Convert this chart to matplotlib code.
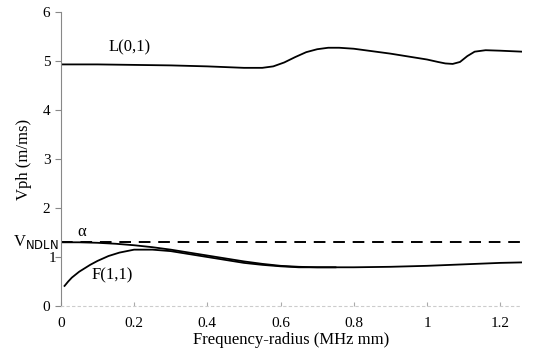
import numpy as np
import matplotlib.pyplot as plt

plt.rcParams['font.family'] = ['Liberation Serif', 'DejaVu Serif']

# L(0,1) mode
l01_x = [0, 0.1, 0.2, 0.3, 0.4, 0.5, 0.55, 0.58, 0.61, 0.64, 0.67, 0.70, 0.73, 0.76,
         0.8, 0.85, 0.9, 0.95, 1.0, 1.03, 1.05, 1.07, 1.09, 1.11, 1.13, 1.16, 1.2, 1.26]
l01_y = [4.93, 4.93, 4.92, 4.91, 4.89, 4.86, 4.86, 4.89, 4.97, 5.08, 5.18, 5.24, 5.27, 5.27,
         5.25, 5.20, 5.15, 5.09, 5.03, 4.98, 4.95, 4.94, 4.98, 5.10, 5.19, 5.22, 5.21, 5.19]

# F(1,1) upper branch
f11a_x = [0, 0.05, 0.1, 0.15, 0.2, 0.25, 0.3, 0.35, 0.4, 0.45, 0.5, 0.55, 0.6,
          0.65, 0.7, 0.8, 0.9, 1.0, 1.1, 1.2, 1.26]
f11a_y = [1.30, 1.30, 1.29, 1.27, 1.24, 1.20, 1.15, 1.09, 1.03, 0.97, 0.91, 0.86, 0.82,
          0.80, 0.79, 0.79, 0.80, 0.82, 0.85, 0.88, 0.89]

# F(1,1) lower branch
f11b_x = [0.01, 0.02, 0.03, 0.05, 0.08, 0.1, 0.13, 0.16, 0.2, 0.25, 0.3, 0.35, 0.4,
          0.45, 0.5, 0.55, 0.6, 0.65, 0.7, 0.75]
f11b_y = [0.41, 0.50, 0.58, 0.70, 0.84, 0.92, 1.02, 1.09, 1.15, 1.15, 1.12, 1.06, 1.00,
          0.94, 0.88, 0.84, 0.81, 0.79, 0.79, 0.79]

v_ndln = 1.30
x_end = 1.26

fig = plt.figure(figsize=(5.34, 3.63), dpi=100)
ax = fig.add_axes([0.114, 0.157, 0.864, 0.81])

ax.plot(l01_x, l01_y, color='black', lw=1.3)
ax.plot(f11a_x, f11a_y, color='black', lw=1.3)
ax.plot(f11b_x, f11b_y, color='black', lw=1.3)
ax.plot([0, x_end], [v_ndln, v_ndln], color='black', lw=1.4, ls=(0, (6, 4)))

ax.text(0.13, 5.2, "L(0,1)", fontsize=12)
ax.text(0.045, 1.42, "α", fontsize=12)
ax.text(0.085, 0.55, "F(1,1)", fontsize=12)
ax.text(-0.005, v_ndln, "V$_{\\mathrm{NDLN}}$", fontsize=12, ha='right', va='center')

ax.set_xlim(0, x_end)
ax.set_ylim(0, 6)
ax.set_xticks([0, 0.2, 0.4, 0.6, 0.8, 1.0, 1.2])
ax.set_xticklabels(["0", "0.2", "0.4", "0.6", "0.8", "1", "1.2"])
ax.set_yticks([0, 1, 2, 3, 4, 5, 6])
ax.set_yticklabels(["0", "", "2", "3", "4", "5", "6"])

for s in ['top', 'right']:
    ax.spines[s].set_visible(False)
ax.spines['left'].set_color('#888888')
ax.spines['bottom'].set_color('#cccccc')
ax.spines['bottom'].set_linestyle((0, (2, 3)))
ax.tick_params(axis='y', direction='out', length=4, color='#888888', labelsize=11)
ax.tick_params(axis='x', direction='in', length=3, color='#aaaaaa', labelsize=11, pad=8)
ax.text(-0.012, 0.97, "1", fontsize=11, ha='right', va='center')

ax.set_xlabel("Frequency-radius (MHz mm)", fontsize=12, labelpad=1)
ax.set_ylabel("Vph (m/ms)", fontsize=12, labelpad=8)

fig.savefig("out.png", dpi=100)
